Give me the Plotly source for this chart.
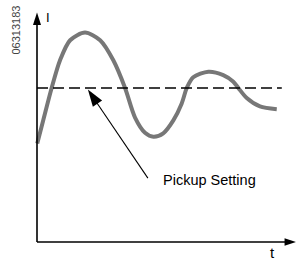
import plotly.graph_objects as go

# ---- data (time in arbitrary units, current relative to pickup = 1.0) ----
time_t = [0.01, 0.26, 0.61, 0.96, 1.38, 2.00, 2.63, 3.18, 3.67, 4.08, 4.50, 4.85,
          5.26, 5.68, 6.03, 6.24, 6.51, 7.14, 7.76, 8.18, 8.39, 8.74, 9.29, 9.99]
current_i = [0.64, 0.79, 1.00, 1.18, 1.31, 1.36, 1.31, 1.18, 1.00, 0.81, 0.71, 0.684,
             0.706, 0.79, 0.90, 1.00, 1.07, 1.106, 1.084, 1.041, 1.00, 0.935, 0.88, 0.862]
pickup_level = 1.0
pickup_span = [0.0, 10.2]
arrow_tail = [4.62, 0.415]
arrow_head = [2.12, 0.99]
axis_t_end = 10.79
axis_i_end = 1.49
label_pickup = "Pickup Setting"
label_i = "I"
label_t = "t"
label_code = "06313183"

fig = go.Figure()

# current waveform
fig.add_trace(go.Scatter(x=time_t, y=current_i, mode="lines",
                         line=dict(color="#777777", width=4, shape="spline", smoothing=0.8),
                         hoverinfo="skip"))

# pickup setting dashed line
fig.add_trace(go.Scatter(x=pickup_span, y=[pickup_level, pickup_level], mode="lines",
                         line=dict(color="black", width=1.3, dash="11px,5px"),
                         hoverinfo="skip"))

# axes with arrowheads
fig.add_trace(go.Scatter(x=[0, 0], y=[0, axis_i_end], mode="lines+markers",
                         line=dict(color="black", width=1.6),
                         marker=dict(symbol="arrow", size=13, color="black",
                                     angleref="previous", line=dict(width=0)),
                         cliponaxis=False, hoverinfo="skip"))
fig.add_trace(go.Scatter(x=[0, axis_t_end], y=[0, 0], mode="lines+markers",
                         line=dict(color="black", width=1.6),
                         marker=dict(symbol="arrow", size=12, color="black",
                                     angleref="previous", line=dict(width=0)),
                         cliponaxis=False, hoverinfo="skip"))

# pickup arrow
fig.add_trace(go.Scatter(x=[arrow_tail[0], arrow_head[0]], y=[arrow_tail[1], arrow_head[1]],
                         mode="lines+markers",
                         line=dict(color="black", width=1.1),
                         marker=dict(symbol="arrow", size=18, color="black",
                                     angleref="previous", line=dict(width=0)),
                         cliponaxis=False, hoverinfo="skip"))

fnt = "Liberation Sans, Arial, Helvetica, sans-serif"
fig.add_annotation(x=arrow_tail[0] + 0.55, y=arrow_tail[1] - 0.01, text=label_pickup,
                   showarrow=False, xanchor="left", yanchor="middle",
                   font=dict(family=fnt, size=14.5, color="black"))
fig.add_annotation(x=0.46, y=1.46, text=label_i, showarrow=False,
                   xanchor="center", yanchor="middle",
                   font=dict(family=fnt, size=13, color="black"))
fig.add_annotation(x=9.83, y=-0.065, text=label_t, showarrow=False,
                   xanchor="center", yanchor="middle",
                   font=dict(family=fnt, size=15, color="black"))
fig.add_annotation(x=15.5 / 298, y=1 - 30 / 260, xref="paper", yref="paper",
                   text=label_code, showarrow=False, textangle=-90,
                   xanchor="center", yanchor="middle",
                   font=dict(family=fnt, size=11, color="#444"))

fig.update_layout(
    width=298, height=260,
    margin=dict(l=0, r=0, t=0, b=0),
    paper_bgcolor="white", plot_bgcolor="white",
    showlegend=False,
    xaxis=dict(range=[-1.5417, 10.875], visible=False, fixedrange=True),
    yaxis=dict(range=[-0.1169, 1.5714], visible=False, fixedrange=True),
)

fig.write_html("out.html", config=dict(displayModeBar=False),
               post_script="document.body.style.margin='0';document.body.style.overflow='hidden';")
